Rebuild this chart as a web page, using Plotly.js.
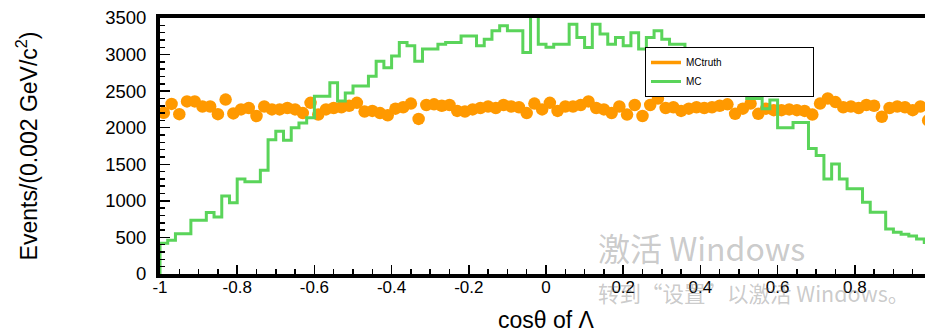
<!DOCTYPE html>
<html><head><meta charset="utf-8">
<script src="https://cdn.plot.ly/plotly-3.0.1.min.js"></script>
<style>html,body{margin:0;padding:0;overflow:hidden;background:#fff}</style>
</head><body><div id="chart" style="width:940px;height:338px"></div>
<script>
// Binning of cos(theta): 100 bins of 0.02 from -1 to 1
const binLow = -1;
const binWidth = 0.02;

// MCtruth (orange markers), one value per bin
const mcTruth = [
  2205, 2325, 2185, 2360, 2360, 2290, 2290, 2185, 2385, 2195,
  2250, 2270, 2160, 2290, 2250, 2250, 2270, 2250, 2200, 2340,
  2180, 2250, 2270, 2280, 2300, 2340, 2220, 2230, 2200, 2170,
  2260, 2280, 2330, 2120, 2310, 2320, 2300, 2310, 2230, 2220,
  2250, 2270, 2290, 2270, 2310, 2290, 2280, 2200, 2330, 2250,
  2340, 2230, 2290, 2290, 2310, 2360, 2270, 2250, 2200, 2290,
  2180, 2310, 2160, 2310, 2400, 2270, 2280, 2230, 2260, 2280,
  2270, 2280, 2300, 2320, 2190, 2260, 2330, 2190, 2260, 2240,
  2240, 2250, 2240, 2230, 2180, 2330, 2400, 2350, 2280, 2290,
  2270, 2310, 2300, 2150, 2270, 2290, 2280, 2240, 2290, 2100
];

// MC (green histogram), one value per bin
const mc = [
  420, 460, 550, 550, 735, 735, 840, 780, 1065, 975,
  1300, 1260, 1260, 1420, 1835, 1950, 1830, 2000, 2065, 2135,
  2430, 2430, 2615, 2365, 2475, 2570, 2570, 2705, 2910, 2820,
  2980, 3165, 3120, 2910, 3075, 3075, 3140, 3165, 3165, 3255,
  3255, 3120, 3210, 3325, 3395, 3325, 3325, 3030, 3650, 3140,
  3100, 3140, 3140, 3415, 3235, 3095, 3415, 3280, 3140, 3235,
  3120, 3300, 3075, 3235, 3325, 3210, 3140, 3140, 2980, 2900,
  2820, 2700, 2600, 2440, 2490, 2490, 2400, 2400, 2260, 2380,
  2000, 2000, 2070, 2070, 1715, 1620, 1300, 1505, 1300, 1165,
  1165, 980, 845, 845, 615, 570, 545, 520, 478, 430
];

const xTickVals = [-1, -0.8, -0.6, -0.4, -0.2, 0, 0.2, 0.4, 0.6, 0.8, 1];
const xTickText = ['-1', '-0.8', '-0.6', '-0.4', '-0.2', '0', '0.2', '0.4', '0.6', '0.8', '1'];
const yTickVals = [0, 500, 1000, 1500, 2000, 2500, 3000, 3500];
const yTickText = ['0', '500', '1000', '1500', '2000', '2500', '3000', '3500'];
const legendNames = ['MCtruth', 'MC'];

const nBins = mc.length;
const centers = mc.map((_, i) => binLow + (i + 0.5) * binWidth);
const edges = [];
for (let i = 0; i <= nBins; i++) edges.push(binLow + i * binWidth);
const stepX = [edges[0]].concat(edges);
const stepY = [0].concat(mc, [mc[nBins - 1]]);

// widen legend entries (box in reference is much wider than its text)
const pad = (s, n) => s + '\u00a0'.repeat(n);

const ORANGE = '#ff9900';
const GREEN = '#5ad45a';
const FONT = 'Liberation Sans, Arial, Helvetica, sans-serif';

const traces = [
  { type: 'scatter', mode: 'markers', x: centers, y: mcTruth, name: legendNames[0],
    marker: { color: ORANGE, size: 12.5, line: { width: 0 } },
    error_x: { type: 'constant', value: binWidth / 2, thickness: 4, width: 0, color: ORANGE },
    error_y: { type: 'sqrt', thickness: 3, width: 0, color: ORANGE },
    showlegend: false, hoverinfo: 'x+y' },
  { type: 'scatter', mode: 'lines', x: [null], y: [null], name: pad(legendNames[0], 31),
    line: { color: ORANGE, width: 3.5 }, showlegend: true, hoverinfo: 'skip' },
  { type: 'scatter', mode: 'lines', x: stepX, y: stepY, name: pad(legendNames[1], 37),
    line: { color: GREEN, width: 3, shape: 'hv' }, showlegend: true }
];

const layout = {
  width: 940, height: 338,
  margin: { l: 160, r: 8, t: 18, b: 64, pad: 0 },
  paper_bgcolor: '#fff', plot_bgcolor: '#fff',
  font: { family: FONT, color: '#000' },
  showlegend: true,
  xaxis: {
    range: [-1, 1], showgrid: false, zeroline: false,
    showline: true, linecolor: '#000', linewidth: 4, mirror: true,
    ticks: 'inside', ticklen: 9, tickwidth: 1.5, tickcolor: '#000',
    tickmode: 'array', tickvals: xTickVals, ticktext: xTickText,
    tickfont: { family: FONT, size: 17, color: '#000' },
    ticklabelstandoff: -5,
    minor: { dtick: 0.05, tick0: -1, ticks: 'inside', ticklen: 5, tickwidth: 1.5, tickcolor: '#000', showgrid: false },
    title: { text: 'cos\u03b8 of \u039b', font: { family: FONT, size: 23, color: '#000' }, standoff: 16 }
  },
  yaxis: {
    range: [0, 3500], showgrid: false, zeroline: false,
    showline: true, linecolor: '#000', linewidth: 4, mirror: true,
    ticks: 'inside', ticklen: 10, tickwidth: 1.5, tickcolor: '#000',
    tickmode: 'array', tickvals: yTickVals, ticktext: yTickText,
    tickfont: { family: FONT, size: 18.5, color: '#000' },
    ticklabelstandoff: 6,
    minor: { dtick: 100, tick0: 0, ticks: 'inside', ticklen: 5, tickwidth: 1.5, tickcolor: '#000', showgrid: false },
    title: { text: 'Events/(0.002 GeV/c<sup>2</sup>)', font: { family: FONT, size: 23, color: '#000' }, standoff: 62 }
  },
  legend: {
    x: (645 - 160) / 772, y: (274 - 47) / 256, xanchor: 'left', yanchor: 'top',
    bgcolor: '#ffffff', bordercolor: '#000', borderwidth: 1,
    font: { family: FONT, size: 10, color: '#000' },
    itemwidth: 30, tracegroupgap: 0
  },
  annotations: [
    { xref: 'paper', yref: 'paper', x: (596 - 160) / 772, y: (274 - 247) / 256, xanchor: 'left', yanchor: 'middle',
      text: '激活 Windows', showarrow: false,
      font: { family: 'Noto Sans CJK SC, sans-serif', size: 32, color: 'rgba(120,120,120,0.4)' } },
    { xref: 'paper', yref: 'paper', x: (596 - 160) / 772, y: (274 - 292) / 256, xanchor: 'left', yanchor: 'middle',
      text: '转到“设置”以激活 Windows。', showarrow: false,
      font: { family: 'Noto Sans CJK SC, sans-serif', size: 21.5, color: 'rgba(120,120,120,0.4)' } }
  ]
};

Plotly.newPlot('chart', traces, layout, { staticPlot: true, displayModeBar: false });
</script>
</body></html>
